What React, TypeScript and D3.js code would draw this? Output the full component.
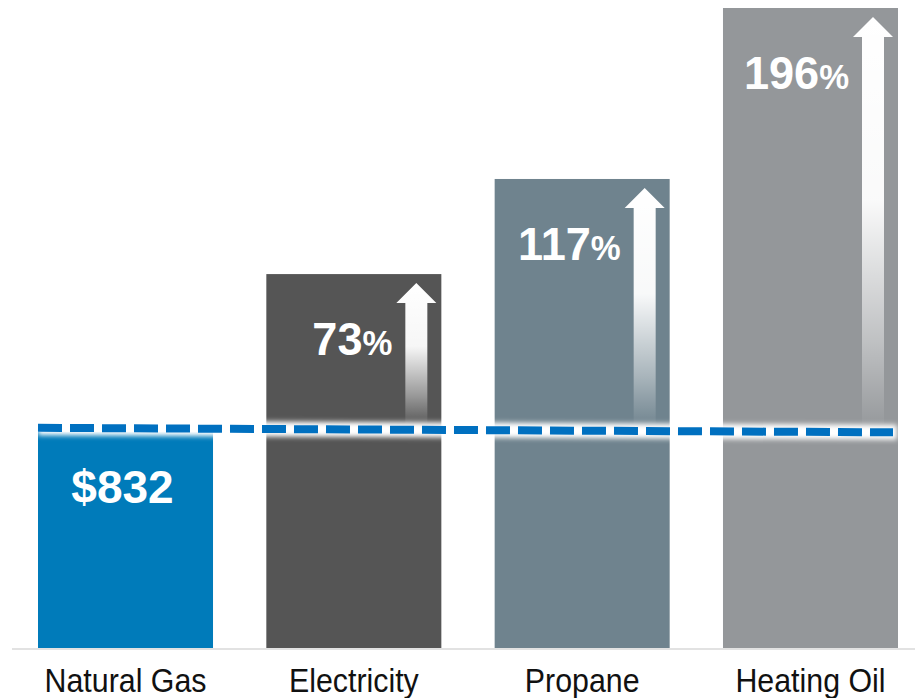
import * as d3 from 'd3';
import { useEffect, useRef } from 'react';

const categories = ['Natural Gas', 'Electricity', 'Propane', 'Heating Oil'];
const annualCost = [832, 1439, 1805, 2463];
const increasePct = [null, 73, 117, 196];
const barColors = ['#007bba', '#555555', '#6f838e', '#94979a'];

const CostChart = () => {
  const svgRef = useRef<SVGSVGElement | null>(null);

  useEffect(() => {
    const width = 915;
    const height = 698;
    const baseY = 648;

    const svg = d3.select(svgRef.current).attr('width', width).attr('height', height);
    svg.selectAll('*').remove();

    const x = d3.scaleBand<string>().domain(categories).range([38, 898]).paddingInner(0.2335).paddingOuter(0);
    const y = d3.scaleLinear().domain([0, d3.max(annualCost) as number]).range([baseY, 8]);

    const defs = svg.append('defs');
    const grad = defs
      .append('linearGradient')
      .attr('id', 'arrowGrad')
      .attr('x1', 0)
      .attr('y1', 0)
      .attr('x2', 0)
      .attr('y2', 1);
    grad.append('stop').attr('offset', '0%').attr('stop-color', '#fff').attr('stop-opacity', 1);
    grad.append('stop').attr('offset', '45%').attr('stop-color', '#fff').attr('stop-opacity', 0.95);
    grad.append('stop').attr('offset', '80%').attr('stop-color', '#fff').attr('stop-opacity', 0.4);
    grad.append('stop').attr('offset', '100%').attr('stop-color', '#fff').attr('stop-opacity', 0.03);

    const blur = defs.append('filter').attr('id', 'glow').attr('x', '-5%').attr('y', '-300%').attr('width', '110%').attr('height', '700%');
    blur.append('feGaussianBlur').attr('stdDeviation', 2.5);

    // baseline
    svg
      .append('line')
      .attr('x1', 12)
      .attr('x2', width)
      .attr('y1', baseY + 1)
      .attr('y2', baseY + 1)
      .attr('stroke', '#d9d9d9')
      .attr('stroke-width', 1.5);

    // bars
    svg
      .selectAll('rect.bar')
      .data(categories)
      .join('rect')
      .attr('class', 'bar')
      .attr('x', (d) => x(d) as number)
      .attr('y', (_, i) => y(annualCost[i]))
      .attr('width', x.bandwidth())
      .attr('height', (_, i) => baseY - y(annualCost[i]))
      .attr('fill', (_, i) => barColors[i]);

    // reference line at natural gas cost
    const refY = y(annualCost[0]);
    const x0 = x(categories[0]) as number;
    const x1 = (x(categories[3]) as number) + x.bandwidth() - 5;

    // arrows + increase labels
    categories.forEach((c, i) => {
      const pct = increasePct[i];
      if (pct == null) return;
      const right = (x(c) as number) + x.bandwidth();
      const cx = right - 25;
      const tip = y(annualCost[i]) + 9;
      const headBase = tip + 20;
      const bottom = refY - 8;
      const p = d3.path();
      p.moveTo(cx, tip);
      p.lineTo(cx + 20, headBase);
      p.lineTo(cx + 11, headBase);
      p.lineTo(cx + 11, bottom);
      p.lineTo(cx - 11, bottom);
      p.lineTo(cx - 11, headBase);
      p.lineTo(cx - 20, headBase);
      p.closePath();
      svg.append('path').attr('d', p.toString()).attr('fill', 'url(#arrowGrad)');

      const t = svg
        .append('text')
        .attr('transform', `translate(${cx - 24},${y(annualCost[i]) + 81}) scale(0.96,1)`)
        .attr('text-anchor', 'end')
        .attr('font-family', 'Liberation Sans, Arial, sans-serif')
        .attr('font-weight', 'bold')
        .attr('fill', '#fff');
      t.append('tspan').attr('font-size', 47).text(String(pct));
      t.append('tspan').attr('font-size', 35).text('%');
    });

    // white glow behind dashed line
    svg
      .append('line')
      .attr('x1', x0)
      .attr('x2', x1 + 4)
      .attr('y1', refY - 4)
      .attr('y2', refY + 0.5)
      .attr('stroke', '#fff')
      .attr('stroke-width', 15)
      .attr('filter', 'url(#glow)');

    svg
      .append('line')
      .attr('x1', x0)
      .attr('x2', x1)
      .attr('y1', refY - 4)
      .attr('y2', refY + 0.5)
      .attr('stroke', '#0070c0')
      .attr('stroke-width', 8)
      .attr('stroke-dasharray', '24 8');

    // natural gas value
    svg
      .append('text')
      .attr('transform', `translate(${(x(categories[0]) as number) + x.bandwidth() / 2 - 3},${refY + 71}) scale(1,1)`)
      .attr('text-anchor', 'middle')
      .attr('font-family', 'Liberation Sans, Arial, sans-serif')
      .attr('font-weight', 'bold')
      .attr('font-size', 46)
      .attr('fill', '#fff')
      .text(d3.format('$,')(annualCost[0]));

    // category labels
    svg
      .selectAll('text.cat')
      .data(categories)
      .join('text')
      .attr('class', 'cat')
      .attr('transform', (d) => `translate(${(x(d) as number) + x.bandwidth() / 2},692) scale(0.92,1)`)
      .attr('text-anchor', 'middle')
      .attr('font-family', 'Liberation Sans, Arial, sans-serif')
      .attr('font-size', 33)
      .attr('fill', '#111')
      .text((d) => d);
  }, []);

  return <svg ref={svgRef} style={{ position: 'absolute', left: 0, top: 0, display: 'block' }}></svg>;
};

export default function App() {
  return <CostChart />;
}
